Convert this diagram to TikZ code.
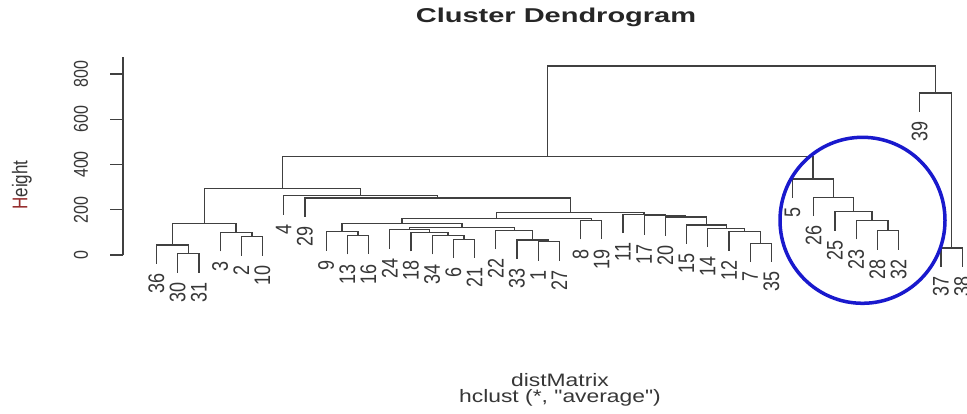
\documentclass[tikz,border=0pt]{standalone}
\usepackage{fontspec}
\setmainfont{Liberation Sans}
\usetikzlibrary{calc}
\definecolor{treecol}{RGB}{64,64,64}
\definecolor{txtcol}{RGB}{55,55,55}
\definecolor{circblue}{RGB}{25,25,205}
\definecolor{hred}{RGB}{150,45,45}
\newcommand\hy[1]{158+0.2263*(#1)}
\newcommand\leafx[1]{156.5+21.2*(#1)}
\newcommand\leaf[3]{\coordinate (L#1) at ({\leafx{#2}},{\hy{#3-83.5}});
  \node[leaflab] (T#1) at ([yshift=-9.5pt]L#1) {#1};}
\newcommand\mrg[4]{\path let \p1=(#2), \p2=(#3) in coordinate (#1) at ({(\x1+\x2)/2},{\hy{#4}});
  \draw[treeline] (#2) |- (#1) -| (#3);}
\begin{document}
\begin{tikzpicture}[x=1pt,y=1pt,
  treeline/.style={draw=treecol, line width=1.2pt},
  leaflab/.style={font=\fontsize{18}{18}\selectfont, text=txtcol, inner sep=0pt, anchor=east, xscale=1.25, rotate=90},
  ticklab/.style={font=\fontsize{16}{16}\selectfont, text=txtcol, inner sep=0pt, xscale=1.25, rotate=90}]
\fill[white] (0,0) rectangle (967,413);
\useasboundingbox (0,0) rectangle (967,413);
% title and axis labels
\node[font=\fontsize{20}{20}\selectfont\bfseries, text=black!85, xscale=1.45] (title) at (556,396) {Cluster Dendrogram};
\node[font=\fontsize{17}{17}\selectfont, text=txtcol, xscale=1.25, rotate=90] (ylab) at (22,228) {\textcolor{hred}{H}eight};
\node[font=\fontsize{18}{18}\selectfont, text=txtcol, xscale=1.27] (xlab) at (560,33) {distMatrix};
\node[font=\fontsize{18}{18}\selectfont, text=txtcol, xscale=1.27] (sub) at (560,15) {hclust (*, \textquotedbl average\textquotedbl)};
% y axis
\coordinate (ax0) at (123,{\hy{0}});
\coordinate (axtop) at (123,{\hy{875}});
\draw[treeline] (ax0) -- (axtop);
\foreach \v in {0,200,400,600,800}{
  \coordinate (tk\v) at (123,{\hy{\v}});
  \coordinate (te\v) at (110,{\hy{\v}});
  \draw[treeline] (tk\v) -- (te\v);
  \node[ticklab] (n\v) at (81,{\hy{\v}}) {\v};
}
% leaves
\leaf{36}{0}{44}
\leaf{30}{1}{5}
\leaf{31}{2}{5}
\leaf{3}{3}{99}
\leaf{2}{4}{81}
\leaf{10}{5}{81}
\leaf{4}{6}{262}
\leaf{29}{7}{252}
\leaf{9}{8}{103}
\leaf{13}{9}{86}
\leaf{16}{10}{86}
\leaf{24}{11}{112}
\leaf{18}{12}{100}
\leaf{34}{13}{86}
\leaf{6}{14}{70}
\leaf{21}{15}{70}
\leaf{22}{16}{110}
\leaf{33}{17}{66}
\leaf{1}{18}{58}
\leaf{27}{19}{58}
\leaf{8}{20}{152}
\leaf{19}{21}{152}
\leaf{11}{22}{180}
\leaf{17}{23}{174}
\leaf{20}{24}{168}
\leaf{15}{25}{133}
\leaf{14}{26}{118}
\leaf{12}{27}{103}
\leaf{7}{28}{52}
\leaf{35}{29}{52}
\leaf{5}{30}{336}
\leaf{26}{31}{255}
\leaf{25}{32}{191}
\leaf{23}{33}{152}
\leaf{28}{34}{107}
\leaf{32}{35}{107}
\leaf{39}{36}{716}
\leaf{37}{37}{31}
\leaf{38}{38}{31}
% merges
\mrg{a1}{L30}{L31}{5}
\mrg{a2}{L36}{a1}{44}
\mrg{a3}{L2}{L10}{81}
\mrg{a4}{L3}{a3}{99}
\mrg{a5}{a2}{a4}{140}
\mrg{x9a}{L13}{L16}{86}
\mrg{x9}{L9}{x9a}{103}
\mrg{w1}{L6}{L21}{70}
\mrg{w2}{L34}{w1}{86}
\mrg{w3}{L18}{w2}{100}
\mrg{w4}{L24}{w3}{112}
\mrg{u1}{L1}{L27}{58}
\mrg{u2}{L33}{u1}{66}
\mrg{u3}{L22}{u2}{110}
\mrg{s}{w4}{u3}{122}
\mrg{r}{x9}{s}{140}
\mrg{e1}{L8}{L19}{152}
\mrg{p}{r}{e1}{162}
\mrg{z1}{L7}{L35}{52}
\mrg{z2}{L12}{z1}{103}
\mrg{z3}{L14}{z2}{118}
\mrg{z4}{L15}{z3}{133}
\mrg{z5}{L20}{z4}{168}
\mrg{q1}{L17}{z5}{174}
\mrg{q}{L11}{q1}{180}
\mrg{pq}{p}{q}{188}
\mrg{m29}{L29}{pq}{252}
\mrg{m4}{L4}{m29}{262}
\mrg{bl}{a5}{m4}{295}
\mrg{c1}{L28}{L32}{107}
\mrg{c2}{L23}{c1}{152}
\mrg{c3}{L25}{c2}{191}
\mrg{c4}{L26}{c3}{255}
\mrg{c5}{L5}{c4}{336}
\mrg{big}{bl}{c5}{436}
\mrg{d1}{L37}{L38}{31}
\mrg{d2}{L39}{d1}{716}
\mrg{top}{big}{d2}{835}
% highlight ellipse
\coordinate (ec) at (862.5,192.7);
\draw[circblue, line width=3.5pt] (ec) ellipse [x radius=82.5, y radius=83];
\end{tikzpicture}
\end{document}
